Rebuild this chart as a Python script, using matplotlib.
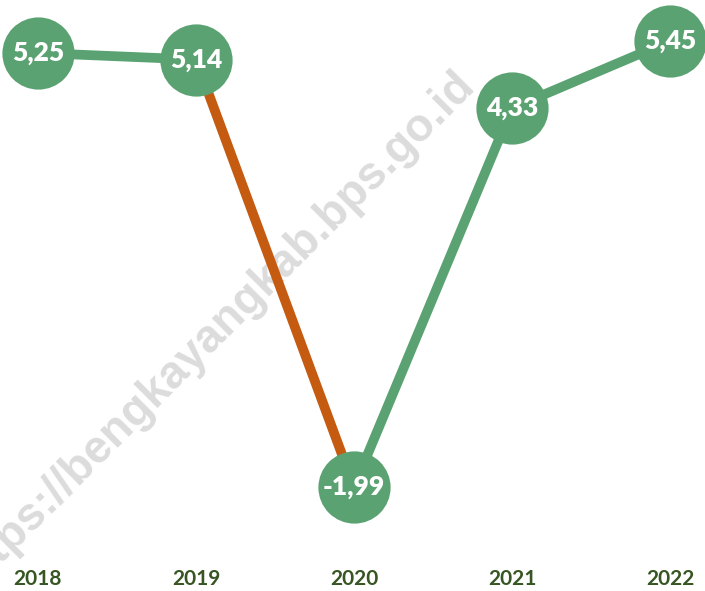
import matplotlib
matplotlib.use("Agg")
import matplotlib.pyplot as plt

years = ["2018", "2019", "2020", "2021", "2022"]
values = [5.25, 5.14, -1.99, 4.33, 5.45]
segment_colors = ["#5AA271", "#C55A11", "#5AA271", "#5AA271"]
marker_color = "#5AA271"
year_color = "#375623"
watermark = "https://bengkayangkab.bps.go.id"

fig = plt.figure(figsize=(7.05, 5.91), dpi=100)
ax = fig.add_axes([0, 26 / 591, 1, 565 / 591])
ax.patch.set_visible(False)

x = list(range(len(years)))
for i in range(len(values) - 1):
    ax.plot(x[i:i + 2], values[i:i + 2], color=segment_colors[i], lw=7,
            solid_capstyle="butt", zorder=2)
ax.plot(x, values, ls="none", marker="o", ms=52, mfc=marker_color,
        mec="none", zorder=3, clip_on=False)
for xi, v in zip(x, values):
    ax.text(xi, v, f"{v:.2f}".replace(".", ","), ha="center", va="center",
            color="white", fontsize=19, fontweight="heavy", family="Lato",
            zorder=4)

ax.text(476 / 705, 1 - 86 / 591, watermark, transform=fig.transFigure,
        rotation=45, rotation_mode="anchor", ha="right", va="baseline",
        fontsize=33, fontweight="bold", family="Liberation Sans",
        color="#dcdcdc", zorder=1)

ax.set_xlim(-38 / 158, 667 / 158)
ax.set_ylim(-3.292, 6.134)
ax.set_xticks(x)
ax.set_xticklabels(years)
for lab in ax.get_xticklabels():
    lab.set_fontfamily(["Liberation Sans Narrow", "Lato"])
    lab.set_fontweight("bold")
    lab.set_fontsize(15)
    lab.set_color(year_color)
ax.tick_params(axis="x", length=0, pad=3)
ax.set_yticks([])
for s in ax.spines.values():
    s.set_visible(False)

fig.savefig("out.png", dpi=100, facecolor="white")
